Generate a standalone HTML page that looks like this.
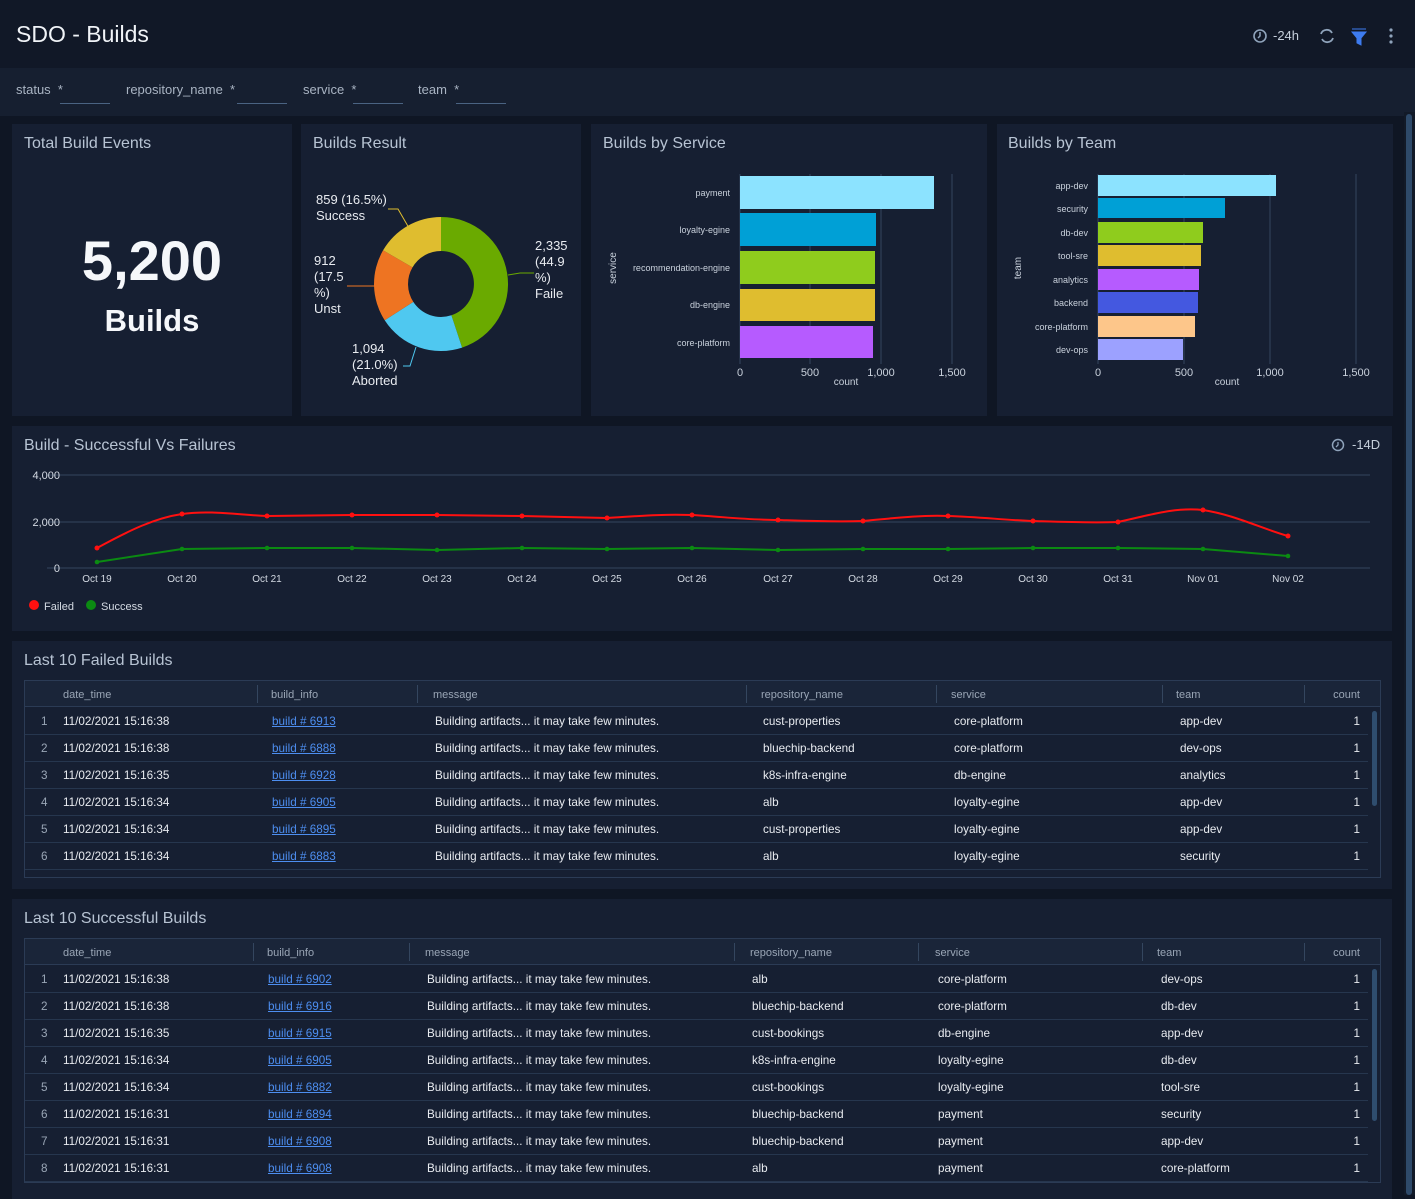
<!DOCTYPE html>
<html><head><meta charset="utf-8"><style>
*{margin:0;padding:0;box-sizing:border-box}
body{width:1415px;height:1195px;background:#0f1624;font-family:"Liberation Sans",sans-serif;position:relative;overflow:hidden;color:#e6e9ef}
.a{position:absolute}
.hdr{left:0;top:0;width:1415px;height:68px;background:#111827}
.flt{left:0;top:68px;width:1415px;height:48px;background:#161f30}
.pn{background:#161f32}
.pt{position:absolute;left:12px;top:11px;font-size:16px;color:#b7c3d3}
.fl{font-size:13px;color:#a9b4c3;top:82px}
.ul{top:103px;height:1px;background:#4a6382;width:50px}
.tbl{border:1px solid #2b3b55;background:#161f32}
.th{background:#1a2539;height:26px;border-bottom:1px solid #2b3b55}
.th span{position:absolute;top:8px;font-size:11px;color:#9aa6b6}
.sep{position:absolute;top:4px;width:1px;height:18px;background:#34465f}
.r{position:absolute;left:0;height:27px;border-bottom:1px solid #26364e;font-size:11.7px;color:#e8ebf0}
.r span{position:absolute;top:7px;white-space:nowrap}
.r .n{color:#9aa6b6}
.r a{color:#4d8ef0;text-decoration:underline}
.sb{position:absolute;width:5px;border-radius:3px;background:#2f4d6e}
</style></head><body>
<div class="a hdr"></div>
<div class="a" style="left:16px;top:21px;font-size:23px;color:#f0f3f7;font-weight:300">SDO - Builds</div>
<svg class="a" style="left:1250px;top:26px" width="160" height="20">
<circle cx="10" cy="10" r="6" fill="none" stroke="#8fa3bb" stroke-width="1.6"/><path d="M10 6v4l-2 2" stroke="#8fa3bb" stroke-width="1.5" fill="none"/>
<text x="23" y="14" font-size="13" fill="#c5cfdb" font-family="Liberation Sans">-24h</text>
<path d="M71 8a6 6 0 0 1 11-1M83 12a6 6 0 0 1-11 1" stroke="#8fa3bb" stroke-width="1.8" fill="none"/>
<path d="M102 3h14M102 6h14l-5 6v7l-4-2v-5z" fill="#3d7bf0" stroke="#3d7bf0" stroke-width="1"/>
<circle cx="141" cy="4" r="1.6" fill="#8fa3bb"/><circle cx="141" cy="10" r="1.6" fill="#8fa3bb"/><circle cx="141" cy="16" r="1.6" fill="#8fa3bb"/>
</svg>
<div class="a flt"></div>
<div class="a fl" style="left:16px">status&nbsp; *</div><div class="a ul" style="left:60px"></div>
<div class="a fl" style="left:126px">repository_name&nbsp; *</div><div class="a ul" style="left:237px"></div>
<div class="a fl" style="left:303px">service&nbsp; *</div><div class="a ul" style="left:353px"></div>
<div class="a fl" style="left:418px">team&nbsp; *</div><div class="a ul" style="left:456px"></div>
<div class="a" style="left:1404px;top:112px;width:11px;height:1083px;background:#121a28"></div>
<div class="a" style="left:1406px;top:114px;width:6px;height:1081px;border-radius:3px;background:#2e4a6a"></div>

<!-- Total -->
<div class="a pn" style="left:12px;top:124px;width:280px;height:292px"><div class="pt">Total Build Events</div>
<div class="a" style="left:0;width:280px;top:104px;text-align:center;font-size:56px;font-weight:bold;color:#f5f7fa">5,200</div>
<div class="a" style="left:0;width:280px;top:179px;text-align:center;font-size:31px;font-weight:bold;color:#f5f7fa">Builds</div></div>

<!-- Donut -->
<div class="a pn" style="left:301px;top:124px;width:280px;height:292px"><div class="pt">Builds Result</div></div>
<svg class="a" style="left:301px;top:124px" width="280" height="292" font-family="Liberation Sans" font-size="13" fill="#e8ebf0">
<g transform="translate(-301,-124)">
<path d="M441 217A67 67 0 0 1 462.1 347.6L451.4 315.3A33 33 0 0 0 441 251Z" fill="#6aaa00"/>
<path d="M462.1 347.6A67 67 0 0 1 384.7 320.3L413.3 301.9A33 33 0 0 0 451.4 315.3Z" fill="#4fc8f0"/>
<path d="M384.7 320.3A67 67 0 0 1 383.1 250.3L412.5 267.4A33 33 0 0 0 413.3 301.9Z" fill="#ee7422"/>
<path d="M383.1 250.3A67 67 0 0 1 441 217L441 251A33 33 0 0 0 412.5 267.4Z" fill="#dfbd2f"/>
<polyline points="388,209 398,209 409,228" fill="none" stroke="#dfbd2f"/>
<polyline points="347,286 376,286" fill="none" stroke="#ee7422"/>
<polyline points="403,366 410,366 416,347" fill="none" stroke="#4fc8f0"/>
<polyline points="508,275 520,273 534,273" fill="none" stroke="#6aaa00"/>
<text x="316" y="204">859 (16.5%)</text><text x="316" y="220">Success</text>
<text x="314" y="265">912</text><text x="314" y="281">(17.5</text><text x="314" y="297">%)</text><text x="314" y="313">Unst</text>
<text x="352" y="353">1,094</text><text x="352" y="369">(21.0%)</text><text x="352" y="385">Aborted</text>
<text x="535" y="250">2,335</text><text x="535" y="266">(44.9</text><text x="535" y="282">%)</text><text x="535" y="298">Faile</text>
</g></svg>

<!-- By service -->
<div class="a pn" style="left:591px;top:124px;width:396px;height:292px"><div class="pt">Builds by Service</div></div>
<svg class="a" style="left:0;top:0" width="1415" height="420" font-family="Liberation Sans" font-size="9" fill="#c9d1dc">
<g stroke="#34465f"><line x1="810" y1="174" x2="810" y2="364"/><line x1="881" y1="174" x2="881" y2="364"/><line x1="952" y1="174" x2="952" y2="364"/><line x1="740" y1="174" x2="740" y2="364"/></g>
<rect x="740" y="176" width="194" height="33" fill="#8ce3ff"/>
<rect x="740" y="213" width="136" height="33" fill="#00a0d6"/>
<rect x="740" y="251" width="135" height="33" fill="#8fcc1d"/>
<rect x="740" y="289" width="135" height="32" fill="#dfbd2f"/>
<rect x="740" y="326" width="133" height="32" fill="#b65bff"/>
<g text-anchor="end"><text x="730" y="196">payment</text><text x="730" y="233">loyalty-egine</text><text x="730" y="271">recommendation-engine</text><text x="730" y="308">db-engine</text><text x="730" y="346">core-platform</text></g>
<g font-size="11" text-anchor="middle"><text x="740" y="376">0</text><text x="810" y="376">500</text><text x="881" y="376">1,000</text><text x="952" y="376">1,500</text><text x="846" y="385" font-size="10">count</text></g>
<text transform="translate(616,268) rotate(-90)" text-anchor="middle" font-size="10">service</text>

<g stroke="#34465f"><line x1="1184" y1="174" x2="1184" y2="364"/><line x1="1270" y1="174" x2="1270" y2="364"/><line x1="1356" y1="174" x2="1356" y2="364"/><line x1="1098" y1="174" x2="1098" y2="364"/></g>
<rect x="1098" y="175" width="178" height="21" fill="#8ce3ff"/>
<rect x="1098" y="198" width="127" height="20" fill="#00a0d6"/>
<rect x="1098" y="222" width="105" height="21" fill="#8fcc1d"/>
<rect x="1098" y="245" width="103" height="21" fill="#dfbd2f"/>
<rect x="1098" y="269" width="101" height="21" fill="#b65bff"/>
<rect x="1098" y="292" width="100" height="21" fill="#4458e0"/>
<rect x="1098" y="316" width="97" height="21" fill="#fdc68a"/>
<rect x="1098" y="339" width="85" height="21" fill="#9ca1ff"/>
<g text-anchor="end"><text x="1088" y="189">app-dev</text><text x="1088" y="212">security</text><text x="1088" y="236">db-dev</text><text x="1088" y="259">tool-sre</text><text x="1088" y="283">analytics</text><text x="1088" y="306">backend</text><text x="1088" y="330">core-platform</text><text x="1088" y="353">dev-ops</text></g>
<g font-size="11" text-anchor="middle"><text x="1098" y="376">0</text><text x="1184" y="376">500</text><text x="1270" y="376">1,000</text><text x="1356" y="376">1,500</text><text x="1227" y="385" font-size="10">count</text></g>
<text transform="translate(1021,268) rotate(-90)" text-anchor="middle" font-size="10">team</text>
</svg>
<div class="a pn" style="left:997px;top:124px;width:396px;height:292px;z-index:-1"></div>
<div class="a" style="left:1008px;top:135px;font-size:16px;color:#b7c3d3">Builds by Team</div>

<!-- Line chart -->
<div class="a pn" style="left:12px;top:426px;width:1380px;height:205px"><div class="pt">Build - Successful Vs Failures</div></div>
<svg class="a" style="left:0;top:426px" width="1415" height="205" font-family="Liberation Sans" font-size="10" fill="#d4dae3">
<g transform="translate(0,-426)">
<circle cx="1338" cy="445" r="5.5" fill="none" stroke="#8fa3bb" stroke-width="1.5"/><path d="M1338 442v3l-2 2" stroke="#8fa3bb" stroke-width="1.3" fill="none"/>
<text x="1352" y="449" font-size="13" fill="#c5cfdb">-14D</text>
<g stroke="#34465f"><line x1="47" y1="475" x2="1370" y2="475"/><line x1="47" y1="522" x2="1370" y2="522"/><line x1="47" y1="568" x2="1370" y2="568"/></g>
<g font-size="11" text-anchor="end"><text x="60" y="479">4,000</text><text x="60" y="526">2,000</text><text x="60" y="572">0</text></g>
<g text-anchor="middle"><text x="97" y="582">Oct 19</text><text x="182" y="582">Oct 20</text><text x="267" y="582">Oct 21</text><text x="352" y="582">Oct 22</text><text x="437" y="582">Oct 23</text><text x="522" y="582">Oct 24</text><text x="607" y="582">Oct 25</text><text x="692" y="582">Oct 26</text><text x="778" y="582">Oct 27</text><text x="863" y="582">Oct 28</text><text x="948" y="582">Oct 29</text><text x="1033" y="582">Oct 30</text><text x="1118" y="582">Oct 31</text><text x="1203" y="582">Nov 01</text><text x="1288" y="582">Nov 02</text></g>
<path d="M97 548C130 530 155 518 182 514C210 510 240 515 267 516L352 515L437 515L522 516L607 518C640 516 660 514 692 515C725 517 750 520 778 520C810 521 835 522 863 521C895 518 920 515 948 516C980 517 1005 520 1033 521C1065 522 1090 523 1118 522C1150 515 1175 507 1203 510C1235 515 1260 528 1288 536" fill="none" stroke="#ff1010" stroke-width="2"/>
<polyline points="97,562 182,549 267,548 352,548 437,550 522,548 607,549 692,548 778,550 863,549 948,549 1033,548 1118,548 1203,549 1288,556" fill="none" stroke="#0b8a12" stroke-width="2" stroke-linejoin="round"/>
<g fill="#ff1010"><circle cx="97" cy="548" r="2.5"/><circle cx="182" cy="514" r="2.5"/><circle cx="267" cy="516" r="2.5"/><circle cx="352" cy="515" r="2.5"/><circle cx="437" cy="515" r="2.5"/><circle cx="522" cy="516" r="2.5"/><circle cx="607" cy="518" r="2.5"/><circle cx="692" cy="515" r="2.5"/><circle cx="778" cy="520" r="2.5"/><circle cx="863" cy="521" r="2.5"/><circle cx="948" cy="516" r="2.5"/><circle cx="1033" cy="521" r="2.5"/><circle cx="1118" cy="522" r="2.5"/><circle cx="1203" cy="510" r="2.5"/><circle cx="1288" cy="536" r="2.5"/></g>
<g fill="#0b8a12"><circle cx="97" cy="562" r="2.3"/><circle cx="182" cy="549" r="2.3"/><circle cx="267" cy="548" r="2.3"/><circle cx="352" cy="548" r="2.3"/><circle cx="437" cy="550" r="2.3"/><circle cx="522" cy="548" r="2.3"/><circle cx="607" cy="549" r="2.3"/><circle cx="692" cy="548" r="2.3"/><circle cx="778" cy="550" r="2.3"/><circle cx="863" cy="549" r="2.3"/><circle cx="948" cy="549" r="2.3"/><circle cx="1033" cy="548" r="2.3"/><circle cx="1118" cy="548" r="2.3"/><circle cx="1203" cy="549" r="2.3"/><circle cx="1288" cy="556" r="2.3"/></g>
<circle cx="34" cy="605" r="5" fill="#ff1010"/><text x="44" y="610" font-size="11">Failed</text>
<circle cx="91" cy="605" r="5" fill="#0b8a12"/><text x="101" y="610" font-size="11">Success</text>
</g></svg>

<!-- Failed table -->
<div class="a pn" style="left:12px;top:641px;width:1380px;height:248px"><div class="pt">Last 10 Failed Builds</div>
<div class="a tbl" style="left:12px;top:39px;width:1357px;height:198px">
<div class="a th" style="left:0;top:0;width:1355px">
<span style="left:38px">date_time</span><span style="left:246px">build_info</span><span style="left:408px">message</span><span style="left:736px">repository_name</span><span style="left:926px">service</span><span style="left:1151px">team</span><span style="right:20px">count</span>
<div class="sep" style="left:232px"></div><div class="sep" style="left:392px"></div><div class="sep" style="left:721px"></div><div class="sep" style="left:911px"></div><div class="sep" style="left:1137px"></div><div class="sep" style="left:1279px"></div></div>
<div class="r" style="top:27px;width:1343px"><span class="n" style="left:16px">1</span><span style="left:38px">11/02/2021 15:16:38</span><span style="left:247px"><a>build # 6913</a></span><span style="left:410px">Building artifacts... it may take few minutes.</span><span style="left:738px">cust-properties</span><span style="left:929px">core-platform</span><span style="left:1155px">app-dev</span><span style="right:8px">1</span></div>
<div class="r" style="top:54px;width:1343px"><span class="n" style="left:16px">2</span><span style="left:38px">11/02/2021 15:16:38</span><span style="left:247px"><a>build # 6888</a></span><span style="left:410px">Building artifacts... it may take few minutes.</span><span style="left:738px">bluechip-backend</span><span style="left:929px">core-platform</span><span style="left:1155px">dev-ops</span><span style="right:8px">1</span></div>
<div class="r" style="top:81px;width:1343px"><span class="n" style="left:16px">3</span><span style="left:38px">11/02/2021 15:16:35</span><span style="left:247px"><a>build # 6928</a></span><span style="left:410px">Building artifacts... it may take few minutes.</span><span style="left:738px">k8s-infra-engine</span><span style="left:929px">db-engine</span><span style="left:1155px">analytics</span><span style="right:8px">1</span></div>
<div class="r" style="top:108px;width:1343px"><span class="n" style="left:16px">4</span><span style="left:38px">11/02/2021 15:16:34</span><span style="left:247px"><a>build # 6905</a></span><span style="left:410px">Building artifacts... it may take few minutes.</span><span style="left:738px">alb</span><span style="left:929px">loyalty-egine</span><span style="left:1155px">app-dev</span><span style="right:8px">1</span></div>
<div class="r" style="top:135px;width:1343px"><span class="n" style="left:16px">5</span><span style="left:38px">11/02/2021 15:16:34</span><span style="left:247px"><a>build # 6895</a></span><span style="left:410px">Building artifacts... it may take few minutes.</span><span style="left:738px">cust-properties</span><span style="left:929px">loyalty-egine</span><span style="left:1155px">app-dev</span><span style="right:8px">1</span></div>
<div class="r" style="top:162px;width:1343px"><span class="n" style="left:16px">6</span><span style="left:38px">11/02/2021 15:16:34</span><span style="left:247px"><a>build # 6883</a></span><span style="left:410px">Building artifacts... it may take few minutes.</span><span style="left:738px">alb</span><span style="left:929px">loyalty-egine</span><span style="left:1155px">security</span><span style="right:8px">1</span></div>
<div class="sb" style="left:1347px;top:30px;height:95px"></div>
</div></div>

<!-- Success table -->
<div class="a pn" style="left:12px;top:899px;width:1380px;height:300px"><div class="pt">Last 10 Successful Builds</div>
<div class="a tbl" style="left:12px;top:39px;width:1357px;height:245px">
<div class="a th" style="left:0;top:0;width:1355px">
<span style="left:38px">date_time</span><span style="left:242px">build_info</span><span style="left:400px">message</span><span style="left:725px">repository_name</span><span style="left:910px">service</span><span style="left:1132px">team</span><span style="right:20px">count</span>
<div class="sep" style="left:228px"></div><div class="sep" style="left:384px"></div><div class="sep" style="left:709px"></div><div class="sep" style="left:893px"></div><div class="sep" style="left:1117px"></div><div class="sep" style="left:1279px"></div></div>
<div class="r" style="top:27px;width:1343px"><span class="n" style="left:16px">1</span><span style="left:38px">11/02/2021 15:16:38</span><span style="left:243px"><a>build # 6902</a></span><span style="left:402px">Building artifacts... it may take few minutes.</span><span style="left:727px">alb</span><span style="left:913px">core-platform</span><span style="left:1136px">dev-ops</span><span style="right:8px">1</span></div>
<div class="r" style="top:54px;width:1343px"><span class="n" style="left:16px">2</span><span style="left:38px">11/02/2021 15:16:38</span><span style="left:243px"><a>build # 6916</a></span><span style="left:402px">Building artifacts... it may take few minutes.</span><span style="left:727px">bluechip-backend</span><span style="left:913px">core-platform</span><span style="left:1136px">db-dev</span><span style="right:8px">1</span></div>
<div class="r" style="top:81px;width:1343px"><span class="n" style="left:16px">3</span><span style="left:38px">11/02/2021 15:16:35</span><span style="left:243px"><a>build # 6915</a></span><span style="left:402px">Building artifacts... it may take few minutes.</span><span style="left:727px">cust-bookings</span><span style="left:913px">db-engine</span><span style="left:1136px">app-dev</span><span style="right:8px">1</span></div>
<div class="r" style="top:108px;width:1343px"><span class="n" style="left:16px">4</span><span style="left:38px">11/02/2021 15:16:34</span><span style="left:243px"><a>build # 6905</a></span><span style="left:402px">Building artifacts... it may take few minutes.</span><span style="left:727px">k8s-infra-engine</span><span style="left:913px">loyalty-egine</span><span style="left:1136px">db-dev</span><span style="right:8px">1</span></div>
<div class="r" style="top:135px;width:1343px"><span class="n" style="left:16px">5</span><span style="left:38px">11/02/2021 15:16:34</span><span style="left:243px"><a>build # 6882</a></span><span style="left:402px">Building artifacts... it may take few minutes.</span><span style="left:727px">cust-bookings</span><span style="left:913px">loyalty-egine</span><span style="left:1136px">tool-sre</span><span style="right:8px">1</span></div>
<div class="r" style="top:162px;width:1343px"><span class="n" style="left:16px">6</span><span style="left:38px">11/02/2021 15:16:31</span><span style="left:243px"><a>build # 6894</a></span><span style="left:402px">Building artifacts... it may take few minutes.</span><span style="left:727px">bluechip-backend</span><span style="left:913px">payment</span><span style="left:1136px">security</span><span style="right:8px">1</span></div>
<div class="r" style="top:189px;width:1343px"><span class="n" style="left:16px">7</span><span style="left:38px">11/02/2021 15:16:31</span><span style="left:243px"><a>build # 6908</a></span><span style="left:402px">Building artifacts... it may take few minutes.</span><span style="left:727px">bluechip-backend</span><span style="left:913px">payment</span><span style="left:1136px">app-dev</span><span style="right:8px">1</span></div>
<div class="r" style="top:216px;width:1343px"><span class="n" style="left:16px">8</span><span style="left:38px">11/02/2021 15:16:31</span><span style="left:243px"><a>build # 6908</a></span><span style="left:402px">Building artifacts... it may take few minutes.</span><span style="left:727px">alb</span><span style="left:913px">payment</span><span style="left:1136px">core-platform</span><span style="right:8px">1</span></div>
<div class="sb" style="left:1347px;top:30px;height:152px"></div>
</div></div>
</body></html>
